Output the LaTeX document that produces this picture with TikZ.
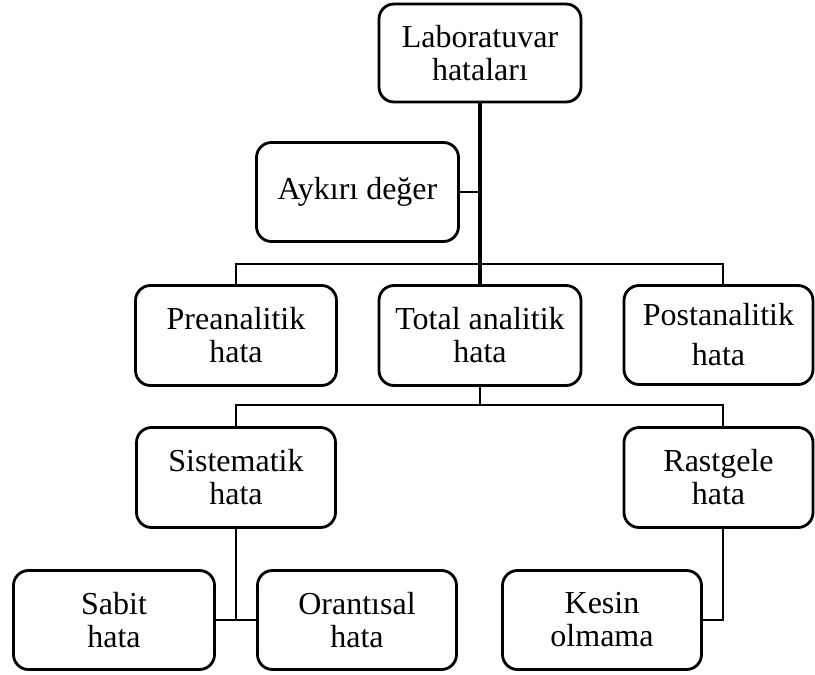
\documentclass[tikz,border=0pt]{standalone}
\usepackage{fontspec}
\setmainfont{Liberation Serif}
\begin{document}
\begin{tikzpicture}[x=1pt,y=-1pt,
  box/.style={draw=black, line width=2.8pt, rounded corners=15pt, align=center,
    inner sep=0pt, font=\fontsize{32}{33}\selectfont},
  conn/.style={draw=black, line width=2.3pt},
  mainconn/.style={draw=black, line width=4.5pt}]
\useasboundingbox (0,0) rectangle (815,675);
\node[box, minimum width=202pt, minimum height=98pt] (lab) at (480,53) {Laboratuvar\\hataları};
\node[box, minimum width=202pt, minimum height=99pt] (ayk) at (357.5,192) {Aykırı değer};
\node[box, minimum width=201pt, minimum height=100pt] (pre) at (236,335.5) {Preanalitik\\hata};
\node[box, minimum width=202pt, minimum height=100pt] (tot) at (480,335.5) {Total analitik\\hata};
\node[box, minimum width=189pt, minimum height=99pt] (post) at (718.5,335) {Postanalitik\\[7pt]hata};
\node[box, minimum width=199pt, minimum height=100pt] (sis) at (236,477.5) {Sistematik\\hata};
\node[box, minimum width=189pt, minimum height=100pt] (ras) at (718.5,477.5) {Rastgele\\hata};
\node[box, minimum width=201pt, minimum height=99pt] (sab) at (114,620) {Sabit\\hata};
\node[box, minimum width=199pt, minimum height=99pt] (ora) at (357,620) {Orantısal\\hata};
\node[box, minimum width=199pt, minimum height=99pt] (kes) at (602,620) {Kesin\\olmama};
\coordinate (b1) at (480,264);
\coordinate (b2) at (480,405);
\coordinate (pr) at ([xshift=4.5pt]post.north);
\coordinate (rn) at ([xshift=4.5pt]ras.north);
\coordinate (rs) at ([xshift=4.5pt]ras.south);
\draw[conn] (pre.north) |- (b1) -| (pr);
\draw[conn] (ayk.east) -- (ayk.east -| lab.south);
\draw[mainconn] (lab.south) -- (tot.north);
\draw[conn] (sis.north) |- (b2) -| (rn);
\draw[conn] (tot.south) -- (b2);
\draw[conn] (sab.east) -- (ora.west);
\draw[conn] (sis.south) -- (sis.south |- sab.east);
\draw[conn] (rs) |- (kes.east);
\end{tikzpicture}
\end{document}
